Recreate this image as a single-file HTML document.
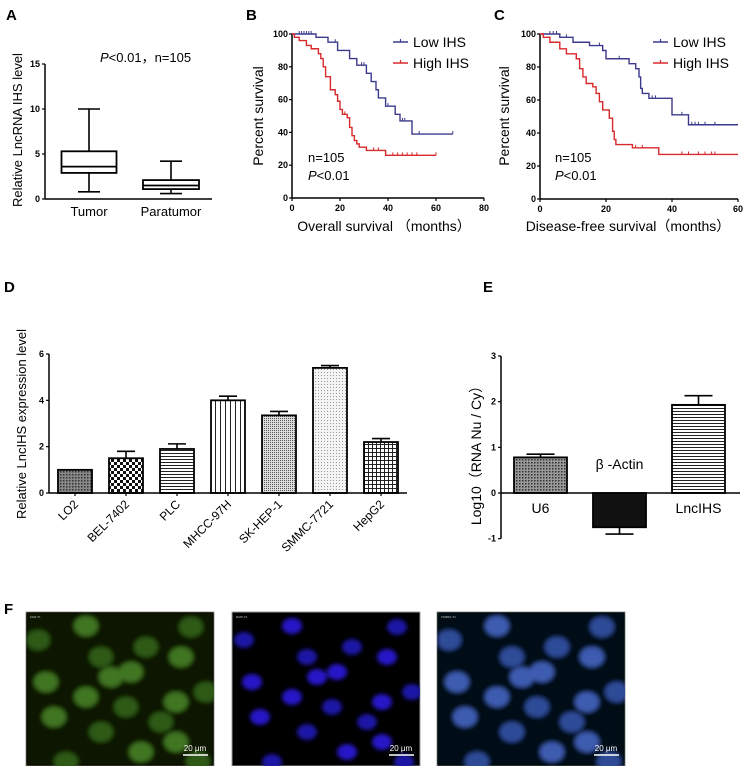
<!DOCTYPE html>
<html><head><meta charset="utf-8">
<style>
html,body{margin:0;padding:0;background:#fff;}
svg{display:block;font-family:"Liberation Sans",Arial,"Noto Sans CJK SC",sans-serif;}
.tick{font-size:9px;font-weight:bold;}
.ttl{font-size:13px;}
.lbl{font-size:15px;font-weight:bold;}
</style></head>
<body>
<svg id="fig" width="747" height="766" viewBox="0 0 747 766">
<defs>
<pattern id="pLO2" width="3" height="3" patternUnits="userSpaceOnUse"><rect width="3" height="3" fill="#888"/><rect width="1.5" height="1.5" fill="#333"/></pattern>
<pattern id="pBEL" width="6" height="6" patternUnits="userSpaceOnUse"><rect width="6" height="6" fill="#fff"/><rect width="3" height="3" fill="#111"/><rect x="3" y="3" width="3" height="3" fill="#111"/></pattern>
<pattern id="pH" width="4" height="3" patternUnits="userSpaceOnUse"><rect width="4" height="3" fill="#fff"/><rect width="4" height="1" fill="#222"/></pattern>
<pattern id="pV" width="5" height="4" patternUnits="userSpaceOnUse"><rect width="5" height="4" fill="#fff"/><rect width="1" height="4" fill="#222"/></pattern>
<pattern id="pSK" width="2" height="2" patternUnits="userSpaceOnUse"><rect width="2" height="2" fill="#ddd"/><rect width="1" height="1" fill="#555"/></pattern>
<pattern id="pSM" width="3" height="3" patternUnits="userSpaceOnUse"><rect width="3" height="3" fill="#f4f4f4"/><rect width="1" height="1" fill="#999"/></pattern>
<pattern id="pHG" width="4" height="4" patternUnits="userSpaceOnUse"><rect width="4" height="4" fill="#fff"/><rect width="4" height="1" fill="#222"/><rect width="1" height="4" fill="#222"/></pattern>
<pattern id="pU6" width="3" height="3" patternUnits="userSpaceOnUse"><rect width="3" height="3" fill="#999"/><rect width="1.5" height="1.5" fill="#333"/></pattern>
<pattern id="pSolid" width="3" height="3" patternUnits="userSpaceOnUse"><rect width="3" height="3" fill="#111"/></pattern>
<filter id="blur"><feGaussianBlur stdDeviation="2"/></filter>
<clipPath id="cl0"><rect x="26" y="612" width="188" height="154"/></clipPath>
<clipPath id="cl1"><rect x="232" y="612" width="188" height="154"/></clipPath>
<clipPath id="cl2"><rect x="437" y="612" width="188" height="154"/></clipPath>
</defs>

<text class="lbl" x="6" y="20">A</text>
<text class="lbl" x="246" y="20">B</text>
<text class="lbl" x="494" y="20">C</text>
<text class="lbl" x="4" y="292">D</text>
<text class="lbl" x="483" y="292">E</text>
<text class="lbl" x="4" y="614">F</text>

<g id="pa"></g>
<g id="pb"></g>
<g id="pc"></g>
<g id="pd"></g>
<g id="pe"></g>
<g id="pf"></g>
</svg>
<script>
// ---------- Panel A data ----------
const boxCats = ["Tumor","Paratumor"];
const boxMin = [0.8,0.6];
const boxQ1 = [2.9,1.1];
const boxMed = [3.6,1.5];
const boxQ3 = [5.3,2.1];
const boxMax = [10,4.2];
const boxTicks = [0,5,10,15];
// ---------- Panel B data ----------
const bLowT = [0,10,15,19,24,27,31,33,35,36,39,43,45,50,67];
const bLowS = [100,98,95,90,85,81,76,71,66,61,56,51,47,39,39];
const bLowCens = [3,4,5,6,7,8,18,29,30,40,46,47,53,67];
const bHighT = [0,1,3,6,8,11,12,13,14,16,18,19,20,21,23,24,25,26,27,28,31,39,60];
const bHighS = [100,98,96,93,91,88,85,80,74,66,63,59,54,51,49,43,38,35,33,31,29,26,26];
const bHighCens = [20,22,34,36,42,44,46,48,50,52,60];
const bXTicks = [0,20,40,60,80];
// ---------- Panel C data ----------
const cLowT = [0,6,10,15,19,20,27,29,30,30.5,31,33,40,45,60];
const cLowS = [100,98,95,93,90,85,82,79,74,67,64,61,51,45,45];
const cLowCens = [3,4,5,8,18,24,34,35,43,46,47,48,50,53];
const cHighT = [0,1,3,6,8,11,12,13,14,16,17,18,19,21,22,22.5,23,28,36,60];
const cHighS = [100,98,95,91,88,85,79,74,70,68,64,59,54,49,41,36,33,31,27,27];
const cHighCens = [11,19,29,31,43,45,48,50,52,53];
const cXTicks = [0,20,40,60];
const survYTicks = [0,20,40,60,80,100];
// ---------- Panel D data ----------
const dCats = ["LO2","BEL-7402","PLC","MHCC-97H","SK-HEP-1","SMMC-7721","HepG2"];
const dVals = [1.0,1.5,1.9,4.0,3.35,5.4,2.2];
const dErr = [0,0.3,0.22,0.18,0.17,0.1,0.15];
const dFills = ["pLO2","pBEL","pH","pV","pSK","pSM","pHG"];
const dTicks = [0,2,4,6];
// ---------- Panel E data ----------
const eCats = ["U6","β -Actin","LncIHS"];
const eVals = [0.78,-0.75,1.93];
const eErr = [0.07,0.15,0.2];
const eFills = ["pU6","pSolid","pH"];
const eTicks = [-1,0,1,2,3];

const NS="http://www.w3.org/2000/svg";
function mk(parent,tag,attrs,text){const e=document.createElementNS(NS,tag);for(const k in attrs)e.setAttribute(k,attrs[k]);if(text!==undefined)e.textContent=text;parent.appendChild(e);return e;}

// ===== Panel A =====
(function(){
 const g=document.getElementById('pa');
 const x0=45,x1=212,yT=64,yB=199;
 const ys=v=>yB-(v/15)*(yB-yT);
 const cx=[89,171],hw=[27.5,28];
 let l=mk(g,'line',{x1:x0,y1:yT,x2:x0,y2:yB,stroke:'#000','stroke-width':1.5});
 
 
 l=mk(g,'line',{x1:x0,y1:yB,x2:x1,y2:yB,stroke:'#000','stroke-width':1.5});
 
 
 boxTicks.forEach(t=>{mk(g,'line',{x1:x0-3,y1:ys(t),x2:x0,y2:ys(t),stroke:'#000','stroke-width':1.2});
  const tx=mk(g,'text',{x:x0-5,y:ys(t)+3,'text-anchor':'end',class:'tick'},t);
  
  });
 boxCats.forEach((c,i)=>{
  const bg=mk(g,'g',{});
  
  
  const x=cx[i],w=hw[i];
  mk(bg,'line',{x1:x,y1:ys(boxMax[i]),x2:x,y2:ys(boxQ3[i]),stroke:'#000','stroke-width':1.6});
  mk(bg,'line',{x1:x,y1:ys(boxQ1[i]),x2:x,y2:ys(boxMin[i]),stroke:'#000','stroke-width':1.6});
  mk(bg,'line',{x1:x-11,y1:ys(boxMax[i]),x2:x+11,y2:ys(boxMax[i]),stroke:'#000','stroke-width':1.6});
  mk(bg,'line',{x1:x-11,y1:ys(boxMin[i]),x2:x+11,y2:ys(boxMin[i]),stroke:'#000','stroke-width':1.6});
  mk(bg,'rect',{x:x-w,y:ys(boxQ3[i]),width:2*w,height:ys(boxQ1[i])-ys(boxQ3[i]),fill:'#fff',stroke:'#000','stroke-width':1.8});
  mk(bg,'line',{x1:x-w,y1:ys(boxMed[i]),x2:x+w,y2:ys(boxMed[i]),stroke:'#000','stroke-width':1.8});
  const tx=mk(g,'text',{x:x,y:216,'text-anchor':'middle',class:'ttl'},c);
  
  
 });
 const p=mk(g,'text',{x:100,y:62,class:'ttl'});
 
 
 mk(p,'tspan',{'font-style':'italic'},'P');mk(p,'tspan',{},'<0.01，n=105');
 const yt=mk(g,'text',{x:0,y:0,transform:'translate(22,130) rotate(-90)','text-anchor':'middle',class:'ttl'},'Relative LncRNA IHS  level');
 
 
})();

// ===== Survival panels =====
function survival(id,o){
 const g=document.getElementById(id);
 const xs=v=>o.x0+(v/o.xmax)*(o.x1-o.x0), ys=v=>o.yB-(v/100)*(o.yB-o.yT);
 let l=mk(g,'line',{x1:o.x0,y1:o.yT,x2:o.x0,y2:o.yB,stroke:'#000','stroke-width':1.5});
 
 
 l=mk(g,'line',{x1:o.x0,y1:o.yB,x2:o.x1,y2:o.yB,stroke:'#000','stroke-width':1.5});
 
 
 survYTicks.forEach(t=>{mk(g,'line',{x1:o.x0-3,y1:ys(t),x2:o.x0,y2:ys(t),stroke:'#000','stroke-width':1.2});
  const tx=mk(g,'text',{x:o.x0-4,y:ys(t)+3,'text-anchor':'end',class:'tick'},t);
  
  });
 o.xt.forEach(t=>{mk(g,'line',{x1:xs(t),y1:o.yB,x2:xs(t),y2:o.yB+3,stroke:'#000','stroke-width':1.2});
  const tx=mk(g,'text',{x:xs(t),y:o.yB+13,'text-anchor':'middle',class:'tick'},t);
  
  });
 function curve(T,S,C,col,name){
  let d='M'+xs(T[0])+','+ys(S[0]);
  for(let i=1;i<T.length;i++){d+=' H'+xs(T[i])+' V'+ys(S[i]);}
  const p=mk(g,'path',{d:d,fill:'none',stroke:col,'stroke-width':1.4});
  
  
  C.forEach(c=>{let s=S[0];for(let i=0;i<T.length;i++){if(T[i]<=c)s=S[i];}
   const t=mk(g,'line',{x1:xs(c),y1:ys(s)-3,x2:xs(c),y2:ys(s),stroke:col,'stroke-width':1});
   
   });
 }
 curve(o.lT,o.lS,o.lC,'#3b3a8c','low-ihs');
 curve(o.hT,o.hS,o.hC,'#d9292b','high-ihs');
 [['Low IHS','#3b3a8c',42],['High IHS','#d9292b',63]].forEach(([t,c,y])=>{
  const lg=mk(g,'g',{});
  
  
  mk(lg,'line',{x1:o.lx,y1:y,x2:o.lx+15,y2:y,stroke:c,'stroke-width':1.5});
  mk(lg,'line',{x1:o.lx+7.5,y1:y-3,x2:o.lx+7.5,y2:y,stroke:c,'stroke-width':1.2});
  mk(lg,'text',{x:o.lx+20,y:y+5,style:'font-size:14px'},t);
 });
 const n=mk(g,'text',{x:o.nx,y:162,class:'ttl'},'n=105');
 
 
 const p=mk(g,'text',{x:o.nx,y:180,class:'ttl'});
 
 
 mk(p,'tspan',{'font-style':'italic'},'P');mk(p,'tspan',{},'<0.01');
 const xt=mk(g,'text',{x:o.xtx,y:231,'text-anchor':'middle',style:'font-size:14px'},o.xtitle);
 
 
 const yt=mk(g,'text',{x:0,y:0,transform:'translate('+o.ytx+',116) rotate(-90)','text-anchor':'middle',style:'font-size:14px'},'Percent survival');
 
 
}
survival('pb',{x0:292,x1:484,xmax:80,yT:34,yB:198,xt:bXTicks,lT:bLowT,lS:bLowS,lC:bLowCens,hT:bHighT,hS:bHighS,hC:bHighCens,lx:393,nx:308,xtx:384,xtitle:'Overall survival （months）',ytx:263});
survival('pc',{x0:540,x1:738,xmax:60,yT:34,yB:199,xt:cXTicks,lT:cLowT,lS:cLowS,lC:cLowCens,hT:cHighT,hS:cHighS,hC:cHighCens,lx:653,nx:555,xtx:628,xtitle:'Disease-free survival（months）',ytx:509});

// ===== Panel D =====
(function(){
 const g=document.getElementById('pd');
 const x0=49,x1=407,yT=354,yB=493;
 const ys=v=>yB-(v/6)*(yB-yT);
 const bx=i=>58+i*51, bw=34;
 dCats.forEach((c,i)=>{
  const r=mk(g,'rect',{x:bx(i),y:ys(dVals[i]),width:bw,height:yB-ys(dVals[i]),fill:'url(#'+dFills[i]+')',stroke:'#000','stroke-width':1.8});
  
  
  if(dErr[i]>0){const cx=bx(i)+bw/2,ye=ys(dVals[i]+dErr[i]);
   const e=mk(g,'path',{d:'M'+cx+','+ys(dVals[i])+' V'+ye+' M'+(cx-9)+','+ye+' H'+(cx+9),stroke:'#000','stroke-width':1.6,fill:'none'});
   
   }
  const cx=bx(i)+bw/2;
  mk(g,'line',{x1:cx,y1:yB,x2:cx,y2:yB+3,stroke:'#000','stroke-width':1.2});
  const t=mk(g,'text',{x:0,y:0,transform:'translate('+(cx+4)+','+(yB+12)+') rotate(-45)','text-anchor':'end',style:'font-size:12px'},c);
  
  
 });
 let l=mk(g,'line',{x1:x0,y1:yT,x2:x0,y2:yB,stroke:'#000','stroke-width':1.5});
 
 
 l=mk(g,'line',{x1:x0,y1:yB,x2:x1,y2:yB,stroke:'#000','stroke-width':1.5});
 
 
 dTicks.forEach(t=>{mk(g,'line',{x1:x0-3,y1:ys(t),x2:x0,y2:ys(t),stroke:'#000','stroke-width':1.2});
  const tx=mk(g,'text',{x:x0-5,y:ys(t)+3,'text-anchor':'end',class:'tick'},t);
  
  });
 const yt=mk(g,'text',{x:0,y:0,transform:'translate(26,424) rotate(-90)','text-anchor':'middle',style:'font-size:13px'},'Relative LncIHS expression level');
 
 
})();

// ===== Panel E =====
(function(){
 const g=document.getElementById('pe');
 const x0=501,x1=740,y3=356,y0=493;
 const ys=v=>y0-v*(y0-y3)/3;
 const bx=[514,593,672],bw=53;
 eCats.forEach((c,i)=>{
  const v=eVals[i],top=Math.min(ys(v),y0),h=Math.abs(ys(v)-y0);
  const r=mk(g,'rect',{x:bx[i],y:top,width:bw,height:h,fill:'url(#'+eFills[i]+')',stroke:'#000','stroke-width':1.8});
  
  
  const cx=bx[i]+bw/2,sgn=v>=0?1:-1,ye=ys(v+sgn*eErr[i]);
  const e=mk(g,'path',{d:'M'+cx+','+ys(v)+' V'+ye+' M'+(cx-14)+','+ye+' H'+(cx+14),stroke:'#000','stroke-width':1.6,fill:'none'});
  
  
  const ty=v>=0?y0+20:y0-24;
  const t=mk(g,'text',{x:cx,y:ty,'text-anchor':'middle',style:'font-size:14px'},c);
  
  
 });
 let l=mk(g,'line',{x1:x0,y1:y3,x2:x0,y2:ys(-1),stroke:'#000','stroke-width':1.5});
 
 
 l=mk(g,'line',{x1:x0,y1:y0,x2:x1,y2:y0,stroke:'#000','stroke-width':1.5});
 
 
 eTicks.forEach(t=>{mk(g,'line',{x1:x0-3,y1:ys(t),x2:x0,y2:ys(t),stroke:'#000','stroke-width':1.2});
  const tx=mk(g,'text',{x:x0-5,y:ys(t)+3,'text-anchor':'end',class:'tick'},t);
  
  });
 const yt=mk(g,'text',{x:0,y:0,transform:'translate(481,452) rotate(-90)','text-anchor':'middle',style:'font-size:14px'},'Log10（RNA Nu / Cy）');
 
 
})();

// ===== Panel F (microscopy) =====
(function(){
 const g=document.getElementById('pf');
 const px=[26,232,437],w=188,y=612,h=154;
 const cells=[[12,28],[60,14],[75,45],[105,60],[165,15],[155,45],[120,35],[60,85],[100,95],[28,105],[180,80],[150,90],[75,120],[115,140],[40,150],[150,130],[172,150],[20,70],[135,110],[85,65]];
 const titles=['FAM-T1','DAPI-T1','TAMRA-T1'];
 const fills=[['#2e5a18','#3f7422'],['#1c12a6','#2618c8'],['#2f4c98','#3c5cb0']];
 px.forEach((x0,k)=>{
  const pg=mk(g,'g',{});
  
  
  mk(pg,'rect',{x:x0,y:y,width:w,height:h,fill:'#000',stroke:'#999','stroke-width':1});
  const cg=mk(pg,'g',{filter:'url(#blur)','clip-path':'url(#cl'+k+')'});
  if(k!==1) mk(cg,'rect',{x:x0,y:y,width:w,height:h,fill:k===0?'#081204':'#050a14'});
  cells.forEach((c,i)=>{mk(cg,'ellipse',{cx:x0+c[0],cy:y+c[1],rx:k===1?10:12,ry:k===1?8:10,fill:fills[k][i%2]});});
  mk(pg,'text',{x:x0+4,y:y+6,fill:'#ccc',style:'font-size:3px'},titles[k]);
  mk(pg,'line',{x1:x0+157,y1:y+143,x2:x0+182,y2:y+143,stroke:'#fff','stroke-width':1.5});
  const s=mk(pg,'text',{x:x0+169,y:y+139,'text-anchor':'middle',fill:'#fff',style:'font-size:8px'},'20 μm');
  
  
 });
})();
</script>
</body></html>
